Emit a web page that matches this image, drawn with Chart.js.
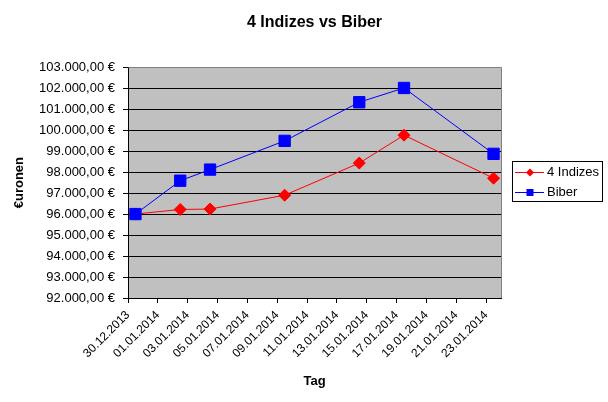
<!DOCTYPE html>
<html><head><meta charset="utf-8">
<script src="https://cdn.jsdelivr.net/npm/chart.js@4/dist/chart.umd.min.js"></script>
<style>html,body{margin:0;padding:0;background:#fff}</style>
</head><body>
<canvas id="c" width="608" height="402" style="display:block;width:608px;height:402px"></canvas>
<script>
const dates = ['30.12.2013','02.01.2014','04.01.2014','09.01.2014','14.01.2014','17.01.2014','23.01.2014'];
const indizes = [96000, 96220, 96240, 96900, 98430, 99760, 97710];
const biber = [96000, 97590, 98120, 99490, 101330, 102010, 98870];
const tickLabels = ['30.12.2013','01.01.2014','03.01.2014','05.01.2014','07.01.2014','09.01.2014','11.01.2014','13.01.2014','15.01.2014','17.01.2014','19.01.2014','21.01.2014','23.01.2014'];
const seriesNames = ['4 Indizes','Biber'];
const chartTitle = '4 Indizes vs Biber';
const xTitle = 'Tag';
const yTitle = '€uronen';
const yMin = 92000, yMax = 103000, yStep = 1000;

const FONT = "'Liberation Sans', Arial, sans-serif";
function parseDay(s){const p=s.split('.');return Date.UTC(+p[2],+p[1]-1,+p[0])/86400000;}
const day0 = parseDay(tickLabels[0]);
const xs = dates.map(d => parseDay(d) - day0 + 0.5);
function fmtEuro(v){
  const int = Math.round(v).toString().replace(/\B(?=(\d{3})+(?!\d))/g,'.');
  return int + ',00 €';
}

const bgPlugin = {
  id:'bg',
  beforeDraw(chart){
    const a = chart.chartArea, ctx = chart.ctx;
    ctx.save();
    ctx.fillStyle = '#fff'; ctx.fillRect(0,0,chart.width,chart.height);
    ctx.fillStyle = '#C0C0C0';
    ctx.fillRect(a.left, a.top, a.right-a.left, a.bottom-a.top);
    ctx.restore();
  },
  afterDraw(chart){
    const a = chart.chartArea, ctx = chart.ctx;
    ctx.save();
    ctx.strokeStyle = '#808080'; ctx.lineWidth = 1;
    ctx.beginPath();
    ctx.moveTo(Math.round(a.left)+0.5, Math.round(a.top)+0.5);
    ctx.lineTo(Math.round(a.right)+0.5, Math.round(a.top)+0.5);
    ctx.lineTo(Math.round(a.right)+0.5, Math.round(a.bottom));
    ctx.stroke();
    // legend
    const lx = 512.5, ly = 161.5, lw = 90, lh = 40;
    ctx.fillStyle = '#fff'; ctx.fillRect(lx, ly, lw, lh);
    ctx.strokeStyle = '#000'; ctx.strokeRect(lx, ly, lw, lh);
    const ds = chart.data.datasets;
    const rows = [172.5, 192.5];
    ds.forEach((d,i)=>{
      const y = rows[i];
      ctx.strokeStyle = d.borderColor; ctx.lineWidth = 1;
      ctx.beginPath(); ctx.moveTo(515, y); ctx.lineTo(544, y); ctx.stroke();
      ctx.fillStyle = d.backgroundColor;
      ctx.beginPath();
      if (i === 0) {
        ctx.moveTo(530, y-4); ctx.lineTo(534, y); ctx.lineTo(530, y+4); ctx.lineTo(526, y); ctx.closePath();
      } else {
        ctx.rect(526.5, y-3.5, 7, 7);
      }
      ctx.fill();
      ctx.fillStyle = '#000';
      ctx.font = '13px ' + FONT;
      ctx.textBaseline = 'middle'; ctx.textAlign = 'left';
      ctx.fillText(d.label, 547, y);
    });
    ctx.restore();
  }
};

new Chart(document.getElementById('c'), {
  type:'line',
  data:{
    datasets:[
      {label:seriesNames[0], order:1, data: xs.map((x,i)=>({x, y: indizes[i]})), borderColor:'#FF0000', backgroundColor:'#FF0000', borderWidth:1, pointStyle:'rectRot', pointRadius:6, pointBorderWidth:1, tension:0},
      {label:seriesNames[1], order:0, data: xs.map((x,i)=>({x, y: biber[i]})), borderColor:'#0000FF', backgroundColor:'#0000FF', borderWidth:1, pointStyle:'rect', pointRadius:8, pointBorderWidth:1, tension:0}
    ]
  },
  options:{
    responsive:false, animation:false, devicePixelRatio:1,
    layout:{padding:{left:0, right:107, top:0, bottom:0}},
    plugins:{
      legend:{display:false},
      tooltip:{enabled:false},
      title:{display:true, text:chartTitle, fullSize:false, color:'#000', font:{family:FONT, size:16, weight:'bold'}, padding:{top:13, bottom:35}}
    },
    scales:{
      x:{
        type:'linear', min:0, max:25,
        afterBuildTicks(s){ s.ticks = tickLabels.map((_,i)=>({value:i*2})); },
        afterFit(s){ s.height = 104; },
        ticks:{autoSkip:false, maxRotation:45, minRotation:45, color:'#000', font:{family:FONT, size:12}, padding:5,
          callback:(v)=>tickLabels[Math.round(v/2)]},
        grid:{display:true, drawOnChartArea:false, drawTicks:true, tickLength:5, color:'#000'},
        border:{display:true, color:'#000', width:1},
        title:{display:true, text:xTitle, color:'#000', font:{family:FONT, size:13, weight:'bold'}, padding:{top:0, bottom:13}}
      },
      y:{
        min:yMin, max:yMax,
        afterBuildTicks(s){ const t=[]; for(let v=yMin; v<=yMax; v+=yStep) t.push({value:v}); s.ticks=t; },
        afterFit(s){ s.width = 128; },
        ticks:{color:'#000', font:{family:FONT, size:13}, padding:8, callback:(v)=>fmtEuro(v)},
        grid:{color:(c)=> c.tick && c.tick.value===yMax ? '#808080' : '#000', tickColor:'#000', tickLength:5, lineWidth:1},
        border:{display:true, color:'#000', width:1},
        title:{display:true, text:yTitle, color:'#000', font:{family:FONT, size:13, weight:'bold'}, padding:{top:12, bottom:0}}
      }
    }
  },
  plugins:[bgPlugin]
});
</script>
</body></html>
